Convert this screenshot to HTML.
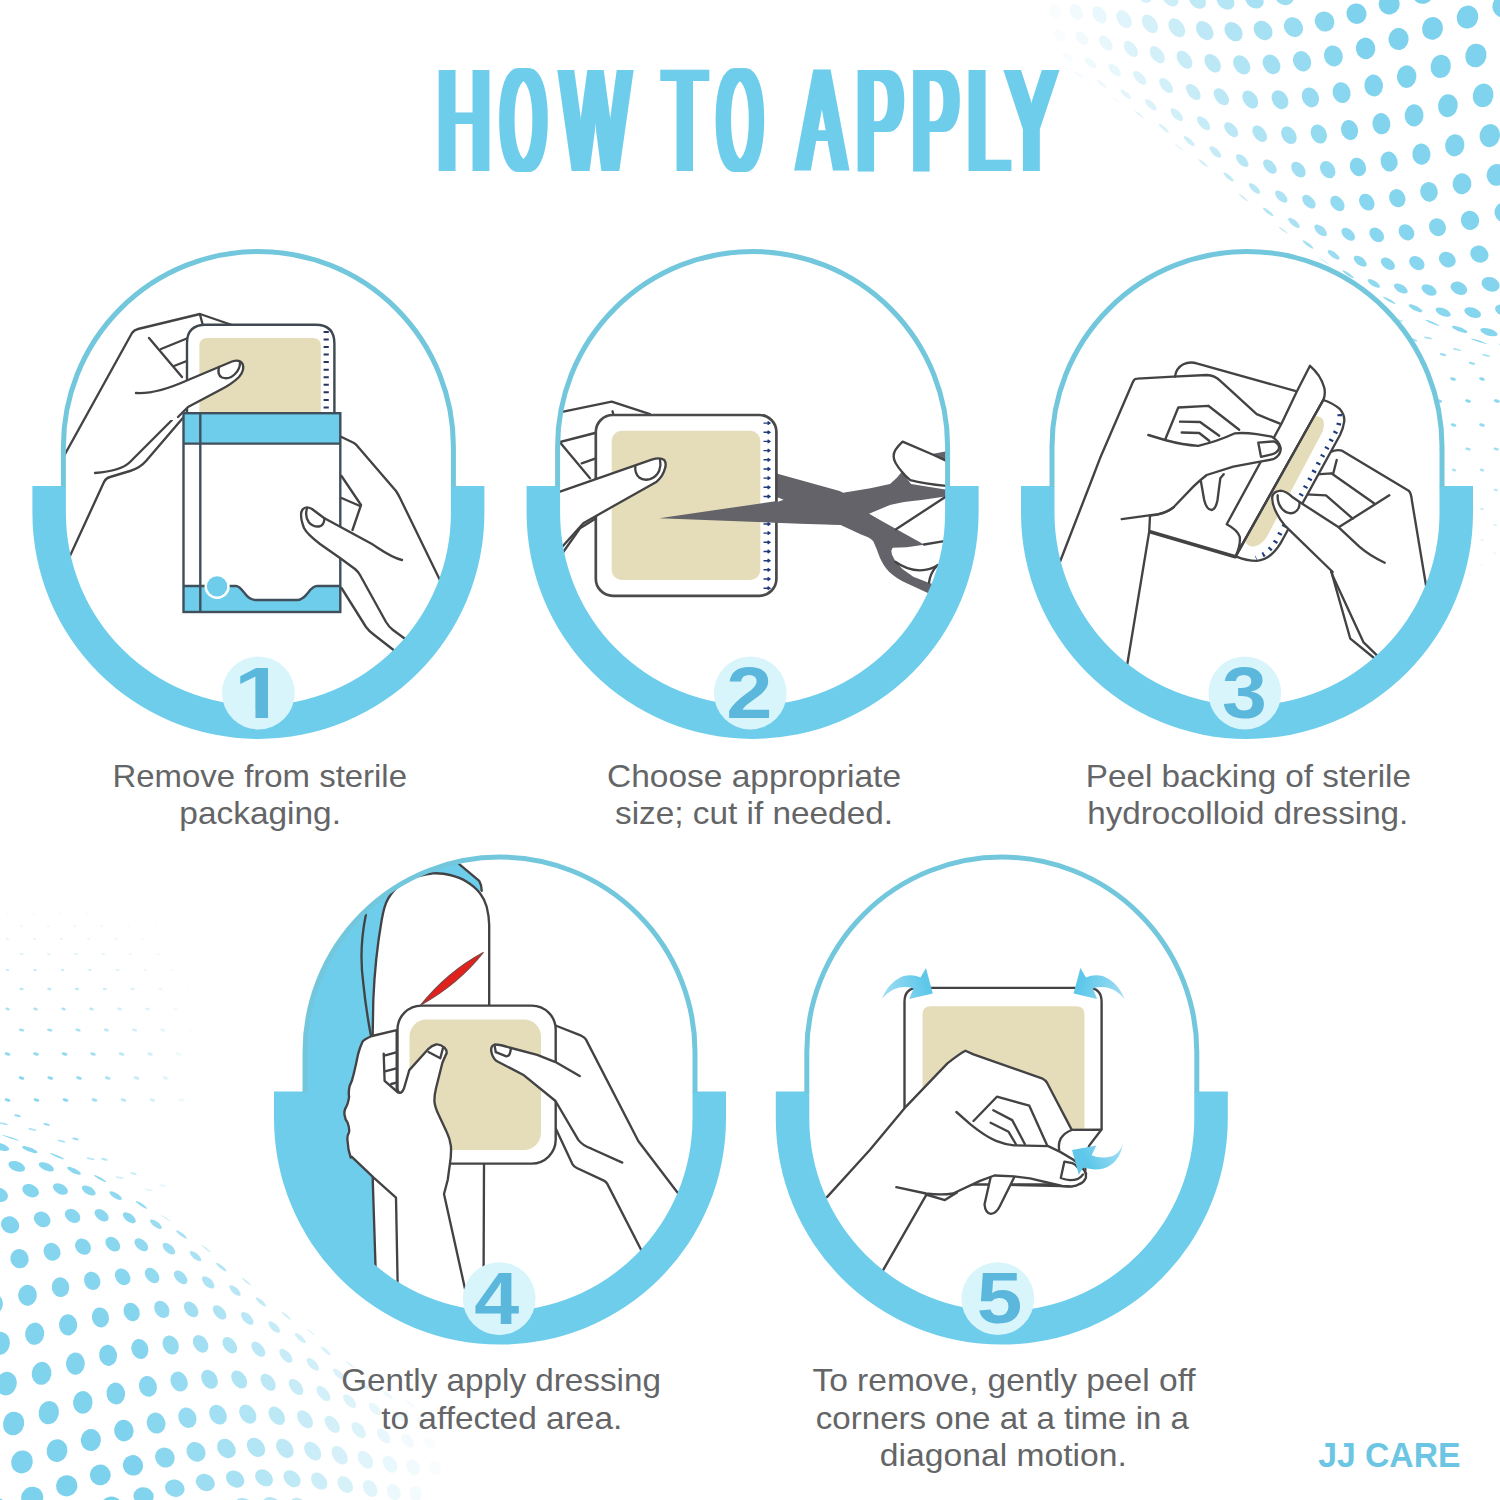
<!DOCTYPE html>
<html lang="en"><head><meta charset="utf-8"><title>How to apply</title>
<style>
html,body{margin:0;padding:0;background:#fff}
body{width:1500px;height:1500px;overflow:hidden}
svg{display:block}
.cap{font-family:"Liberation Sans",sans-serif;font-size:31.6px;fill:#646567}
.num{font-family:"Liberation Sans",sans-serif;font-weight:bold;font-size:100px;fill:#5bb8dc}
.ttl{font-family:"Liberation Sans",sans-serif;font-weight:normal;font-size:69px;fill:#6ecdeb}
.brand{font-family:"Liberation Sans",sans-serif;font-weight:bold;font-size:35.4px;fill:#6cc6e3}
.ln{fill:none;stroke:#434345;stroke-width:2.35;stroke-linecap:round;stroke-linejoin:round}
.sk{fill:#fff;stroke:#434345;stroke-width:2.35;stroke-linecap:round;stroke-linejoin:round}
</style></head><body>
<svg width="1500" height="1500" viewBox="0 0 1500 1500">
<rect width="1500" height="1500" fill="#fff"/>
<defs>
<clipPath id="c1"><path d="M64.99999999999997,513 V446.5 A193.4,193.4 0 0 1 451.79999999999995,446.5 V513 A193.4,193.4 0 0 1 64.99999999999997,513Z"/></clipPath>
<clipPath id="c2"><path d="M559.2,513 V446.5 A193.4,193.4 0 0 1 946.0,446.5 V513 A193.4,193.4 0 0 1 559.2,513Z"/></clipPath>
<clipPath id="c3"><path d="M1053.6,513 V446.5 A193.4,193.4 0 0 1 1440.4,446.5 V513 A193.4,193.4 0 0 1 1053.6,513Z"/></clipPath>
<clipPath id="c4"><path d="M306.6,1118.6 V1052.1 A193.4,193.4 0 0 1 693.4,1052.1 V1118.6 A193.4,193.4 0 0 1 306.6,1118.6Z"/></clipPath>
<clipPath id="c5"><path d="M808.4,1118.6 V1052.1 A193.4,193.4 0 0 1 1195.2,1052.1 V1118.6 A193.4,193.4 0 0 1 808.4,1118.6Z"/></clipPath>
<filter id="fat" x="400" y="40" width="700" height="160" filterUnits="userSpaceOnUse"><feMorphology operator="dilate" radius="5 0"/></filter>
<clipPath id="one"><path d="M230,660 H290 V710 H268.05 V722 H255.45 V710 H230Z"/></clipPath>
</defs>
<g id="dotsA" fill="#6ecdeb">
<circle r="1" transform="matrix(3.38 0.76 2.14 1.81 1057.8 68.7)" opacity="0.03"/>
<circle r="1" transform="matrix(6.21 -0.29 0.90 7.51 1054.7 11.1)" opacity="0.03"/>
<circle r="1" transform="matrix(5.57 0.33 1.69 6.02 1059.5 35.4)" opacity="0.04"/>
<circle r="1" transform="matrix(4.75 0.92 2.13 4.32 1067.7 57.2)" opacity="0.05"/>
<circle r="1" transform="matrix(3.83 1.37 2.25 2.66 1079.2 75.0)" opacity="0.07"/>
<circle r="1" transform="matrix(6.34 0.23 0.29 7.84 1073.8 -14.9)" opacity="0.08"/>
<circle r="1" transform="matrix(6.72 0.63 1.23 8.05 1076.3 11.8)" opacity="0.09"/>
<circle r="1" transform="matrix(6.05 1.05 1.86 6.74 1081.9 38.2)" opacity="0.09"/>
<circle r="1" transform="matrix(5.23 1.47 2.24 5.16 1090.5 62.8)" opacity="0.11"/>
<circle r="1" transform="matrix(4.31 1.81 2.35 3.52 1101.9 84.0)" opacity="0.12"/>
<circle r="1" transform="matrix(3.35 2.00 2.23 2.00 1116.0 100.5)" opacity="0.14"/>
<circle r="1" transform="matrix(6.84 0.86 0.73 8.10 1095.7 -13.0)" opacity="0.14"/>
<circle r="1" transform="matrix(7.17 1.17 1.51 8.49 1099.5 14.8)" opacity="0.15"/>
<circle r="1" transform="matrix(6.50 1.47 2.01 7.39 1105.8 43.1)" opacity="0.16"/>
<circle r="1" transform="matrix(5.69 1.79 2.32 5.96 1114.6 70.0)" opacity="0.17"/>
<circle r="1" transform="matrix(4.79 2.07 2.43 4.39 1125.8 94.3)" opacity="0.18"/>
<circle r="1" transform="matrix(3.85 2.26 2.36 2.85 1139.4 114.5)" opacity="0.20"/>
<circle r="1" transform="matrix(7.27 1.15 1.13 8.29 1119.3 -9.5)" opacity="0.21"/>
<circle r="1" transform="matrix(7.57 1.39 1.74 8.85 1124.1 19.2)" opacity="0.22"/>
<circle r="1" transform="matrix(6.92 1.61 2.12 7.96 1130.9 48.9)" opacity="0.23"/>
<circle r="1" transform="matrix(6.13 1.87 2.37 6.70 1139.8 77.9)" opacity="0.24"/>
<circle r="1" transform="matrix(5.26 2.14 2.48 5.23 1150.8 104.8)" opacity="0.25"/>
<circle r="1" transform="matrix(4.36 2.34 2.45 3.72 1163.8 128.2)" opacity="0.26"/>
<circle r="1" transform="matrix(3.46 2.45 2.28 2.29 1178.8 146.9)" opacity="0.27"/>
<circle r="1" transform="matrix(7.66 1.15 1.49 8.42 1144.2 -5.6)" opacity="0.28"/>
<circle r="1" transform="matrix(7.92 1.33 1.95 9.13 1149.9 23.8)" opacity="0.29"/>
<circle r="1" transform="matrix(7.29 1.51 2.21 8.46 1157.2 54.7)" opacity="0.30"/>
<circle r="1" transform="matrix(6.53 1.75 2.39 7.38 1166.1 85.5)" opacity="0.31"/>
<circle r="1" transform="matrix(5.70 2.01 2.49 6.03 1176.8 114.7)" opacity="0.32"/>
<circle r="1" transform="matrix(4.84 2.25 2.49 4.58 1189.2 141.0)" opacity="0.33"/>
<circle r="1" transform="matrix(3.98 2.43 2.39 3.14 1203.2 163.1)" opacity="0.34"/>
<circle r="1" transform="matrix(7.59 0.93 1.57 7.11 1164.6 -28.3)" opacity="0.34"/>
<circle r="1" transform="matrix(7.99 0.92 1.82 8.50 1170.3 -2.1)" opacity="0.35"/>
<circle r="1" transform="matrix(8.23 1.05 2.12 9.36 1176.8 27.8)" opacity="0.37"/>
<circle r="1" transform="matrix(7.63 1.20 2.27 8.89 1184.5 59.7)" opacity="0.38"/>
<circle r="1" transform="matrix(6.91 1.43 2.39 7.98 1193.4 92.0)" opacity="0.38"/>
<circle r="1" transform="matrix(6.12 1.70 2.46 6.77 1203.6 123.2)" opacity="0.39"/>
<circle r="1" transform="matrix(5.29 1.97 2.48 5.40 1215.3 151.9)" opacity="0.40"/>
<circle r="1" transform="matrix(4.47 2.22 2.43 3.99 1228.5 177.0)" opacity="0.41"/>
<circle r="1" transform="matrix(3.78 2.47 2.38 2.73 1243.2 197.5)" opacity="0.42"/>
<circle r="1" transform="matrix(7.92 0.54 2.04 7.02 1190.5 -25.8)" opacity="0.41"/>
<circle r="1" transform="matrix(8.29 0.50 2.12 8.54 1197.4 0.3)" opacity="0.43"/>
<circle r="1" transform="matrix(8.51 0.59 2.27 9.53 1204.7 30.6)" opacity="0.45"/>
<circle r="1" transform="matrix(7.94 0.74 2.31 9.25 1212.7 63.3)" opacity="0.46"/>
<circle r="1" transform="matrix(7.25 0.96 2.36 8.51 1221.4 96.8)" opacity="0.46"/>
<circle r="1" transform="matrix(6.51 1.24 2.41 7.45 1231.2 129.7)" opacity="0.47"/>
<circle r="1" transform="matrix(5.79 1.56 2.46 6.25 1242.2 160.6)" opacity="0.48"/>
<circle r="1" transform="matrix(5.10 1.90 2.51 4.98 1254.5 188.4)" opacity="0.49"/>
<circle r="1" transform="matrix(4.47 2.25 2.54 3.72 1268.2 211.9)" opacity="0.50"/>
<circle r="1" transform="matrix(3.92 2.61 2.56 2.51 1283.3 230.3)" opacity="0.52"/>
<circle r="1" transform="matrix(8.20 0.01 2.49 6.91 1217.4 -24.8)" opacity="0.49"/>
<circle r="1" transform="matrix(8.56 -0.05 2.40 8.55 1225.5 1.1)" opacity="0.51"/>
<circle r="1" transform="matrix(8.76 -0.00 2.41 9.65 1233.5 31.6)" opacity="0.54"/>
<circle r="1" transform="matrix(8.24 0.15 2.34 9.57 1241.7 64.9)" opacity="0.54"/>
<circle r="1" transform="matrix(7.63 0.38 2.34 9.04 1250.3 99.5)" opacity="0.55"/>
<circle r="1" transform="matrix(6.99 0.68 2.37 8.19 1259.7 133.8)" opacity="0.55"/>
<circle r="1" transform="matrix(6.33 1.02 2.44 7.13 1269.9 166.6)" opacity="0.56"/>
<circle r="1" transform="matrix(5.70 1.40 2.52 5.94 1281.3 196.6)" opacity="0.57"/>
<circle r="1" transform="matrix(5.12 1.81 2.61 4.71 1294.0 222.9)" opacity="0.59"/>
<circle r="1" transform="matrix(4.59 2.24 2.71 3.47 1308.0 244.5)" opacity="0.60"/>
<circle r="1" transform="matrix(4.15 2.71 2.81 2.28 1323.6 260.7)" opacity="0.63"/>
<circle r="1" transform="matrix(8.46 -0.62 2.92 6.79 1245.2 -25.8)" opacity="0.57"/>
<circle r="1" transform="matrix(8.81 -0.69 2.67 8.53 1254.4 -0.1)" opacity="0.60"/>
<circle r="1" transform="matrix(9.00 -0.67 2.54 9.74 1263.1 30.5)" opacity="0.62"/>
<circle r="1" transform="matrix(8.55 -0.51 2.37 9.86 1271.5 64.3)" opacity="0.63"/>
<circle r="1" transform="matrix(8.02 -0.28 2.30 9.53 1280.0 99.7)" opacity="0.63"/>
<circle r="1" transform="matrix(7.44 0.02 2.31 8.85 1288.9 135.2)" opacity="0.64"/>
<circle r="1" transform="matrix(6.85 0.37 2.37 7.92 1298.4 169.6)" opacity="0.65"/>
<circle r="1" transform="matrix(6.27 0.77 2.47 6.83 1308.9 201.7)" opacity="0.66"/>
<circle r="1" transform="matrix(5.73 1.20 2.61 5.65 1320.6 230.4)" opacity="0.67"/>
<circle r="1" transform="matrix(5.24 1.67 2.77 4.43 1333.6 254.8)" opacity="0.69"/>
<circle r="1" transform="matrix(4.83 2.18 2.96 3.21 1348.2 274.2)" opacity="0.72"/>
<circle r="1" transform="matrix(8.70 -1.29 3.34 6.67 1273.8 -29.0)" opacity="0.65"/>
<circle r="1" transform="matrix(9.04 -1.37 2.93 8.51 1284.2 -3.5)" opacity="0.68"/>
<circle r="1" transform="matrix(9.23 -1.36 2.66 9.80 1293.5 27.1)" opacity="0.71"/>
<circle r="1" transform="matrix(8.85 -1.20 2.40 10.11 1302.1 61.3)" opacity="0.72"/>
<circle r="1" transform="matrix(8.39 -0.97 2.26 9.95 1310.4 97.4)" opacity="0.72"/>
<circle r="1" transform="matrix(7.88 -0.68 2.23 9.43 1318.8 134.0)" opacity="0.73"/>
<circle r="1" transform="matrix(7.35 -0.34 2.28 8.63 1327.7 169.7)" opacity="0.74"/>
<circle r="1" transform="matrix(6.82 0.05 2.40 7.65 1337.4 203.5)" opacity="0.75"/>
<circle r="1" transform="matrix(6.33 0.49 2.57 6.54 1348.2 234.3)" opacity="0.76"/>
<circle r="1" transform="matrix(5.88 0.97 2.78 5.35 1360.2 261.2)" opacity="0.78"/>
<circle r="1" transform="matrix(5.50 1.49 3.04 4.13 1373.9 283.4)" opacity="0.77"/>
<circle r="1" transform="matrix(5.20 2.06 3.34 2.89 1389.3 300.4)" opacity="0.76"/>
<circle r="1" transform="matrix(9.26 -2.03 3.19 8.47 1314.7 -9.2)" opacity="0.77"/>
<circle r="1" transform="matrix(9.45 -2.03 2.79 9.85 1324.6 21.5)" opacity="0.80"/>
<circle r="1" transform="matrix(9.14 -1.87 2.43 10.31 1333.4 55.9)" opacity="0.81"/>
<circle r="1" transform="matrix(8.75 -1.65 2.22 10.31 1341.6 92.6)" opacity="0.82"/>
<circle r="1" transform="matrix(8.31 -1.38 2.15 9.94 1349.6 130.0)" opacity="0.83"/>
<circle r="1" transform="matrix(7.84 -1.05 2.18 9.27 1357.9 167.0)" opacity="0.83"/>
<circle r="1" transform="matrix(7.37 -0.67 2.30 8.39 1366.8 202.2)" opacity="0.82"/>
<circle r="1" transform="matrix(6.93 -0.25 2.50 7.36 1376.7 234.8)" opacity="0.81"/>
<circle r="1" transform="matrix(6.53 0.21 2.76 6.22 1387.9 263.8)" opacity="0.80"/>
<circle r="1" transform="matrix(6.19 0.72 3.08 5.02 1400.8 288.5)" opacity="0.79"/>
<circle r="1" transform="matrix(5.93 1.28 3.47 3.78 1415.5 308.3)" opacity="0.79"/>
<circle r="1" transform="matrix(5.77 1.91 3.92 2.53 1432.4 322.8)" opacity="0.79"/>
<circle r="1" transform="matrix(9.49 -2.63 3.45 8.44 1345.9 -17.0)" opacity="0.86"/>
<circle r="1" transform="matrix(9.69 -2.63 2.92 9.89 1356.5 13.7)" opacity="0.89"/>
<circle r="1" transform="matrix(9.44 -2.47 2.47 10.49 1365.6 48.4)" opacity="0.89"/>
<circle r="1" transform="matrix(9.12 -2.26 2.19 10.63 1373.7 85.5)" opacity="0.87"/>
<circle r="1" transform="matrix(8.75 -2.01 2.07 10.39 1381.4 123.7)" opacity="0.86"/>
<circle r="1" transform="matrix(8.34 -1.70 2.08 9.84 1389.1 161.6)" opacity="0.85"/>
<circle r="1" transform="matrix(7.93 -1.35 2.20 9.06 1397.3 198.2)" opacity="0.84"/>
<circle r="1" transform="matrix(7.54 -0.96 2.42 8.11 1406.5 232.3)" opacity="0.83"/>
<circle r="1" transform="matrix(7.20 -0.53 2.73 7.02 1416.9 263.1)" opacity="0.82"/>
<circle r="1" transform="matrix(6.91 -0.05 3.12 5.86 1429.1 290.0)" opacity="0.82"/>
<circle r="1" transform="matrix(6.70 0.48 3.59 4.64 1443.2 312.2)" opacity="0.81"/>
<circle r="1" transform="matrix(6.60 1.07 4.14 3.39 1459.7 329.4)" opacity="0.82"/>
<circle r="1" transform="matrix(6.62 1.74 4.80 2.12 1478.8 341.2)" opacity="0.82"/>
<circle r="1" transform="matrix(9.72 -3.12 3.72 8.43 1378.0 -26.6)" opacity="0.90"/>
<circle r="1" transform="matrix(9.94 -3.10 3.06 9.93 1389.2 4.1)" opacity="0.90"/>
<circle r="1" transform="matrix(9.76 -2.95 2.52 10.65 1398.6 39.0)" opacity="0.89"/>
<circle r="1" transform="matrix(9.51 -2.75 2.17 10.91 1406.7 76.6)" opacity="0.88"/>
<circle r="1" transform="matrix(9.20 -2.52 2.00 10.79 1414.1 115.4)" opacity="0.87"/>
<circle r="1" transform="matrix(8.87 -2.24 1.99 10.35 1421.4 154.2)" opacity="0.86"/>
<circle r="1" transform="matrix(8.52 -1.93 2.11 9.67 1429.0 191.8)" opacity="0.85"/>
<circle r="1" transform="matrix(8.20 -1.57 2.35 8.79 1437.5 227.2)" opacity="0.84"/>
<circle r="1" transform="matrix(7.91 -1.18 2.70 7.76 1447.3 259.6)" opacity="0.84"/>
<circle r="1" transform="matrix(7.68 -0.74 3.15 6.64 1458.9 288.3)" opacity="0.84"/>
<circle r="1" transform="matrix(7.53 -0.26 3.71 5.45 1472.7 312.6)" opacity="0.84"/>
<circle r="1" transform="matrix(7.41 0.27 4.32 4.16 1489.0 332.2)" opacity="0.83"/>
<circle r="1" transform="matrix(7.28 0.84 4.95 2.82 1508.2 346.6)" opacity="0.83"/>
<circle r="1" transform="matrix(7.24 1.45 5.61 1.52 1530.6 355.8)" opacity="0.82"/>
<circle r="1" transform="matrix(10.21 -3.41 3.23 9.98 1422.8 -6.8)" opacity="0.90"/>
<circle r="1" transform="matrix(10.10 -3.25 2.59 10.80 1432.5 28.4)" opacity="0.89"/>
<circle r="1" transform="matrix(9.92 -3.07 2.18 11.17 1440.7 66.4)" opacity="0.88"/>
<circle r="1" transform="matrix(9.69 -2.85 1.96 11.15 1447.9 105.7)" opacity="0.88"/>
<circle r="1" transform="matrix(9.43 -2.61 1.92 10.81 1454.8 145.3)" opacity="0.87"/>
<circle r="1" transform="matrix(9.15 -2.33 2.03 10.21 1462.0 183.8)" opacity="0.86"/>
<circle r="1" transform="matrix(8.89 -2.01 2.29 9.41 1470.0 220.3)" opacity="0.86"/>
<circle r="1" transform="matrix(8.67 -1.67 2.69 8.44 1479.4 254.1)" opacity="0.86"/>
<circle r="1" transform="matrix(8.43 -1.27 3.18 7.28 1490.6 284.3)" opacity="0.85"/>
<circle r="1" transform="matrix(8.22 -0.84 3.76 6.03 1504.2 310.4)" opacity="0.84"/>
<circle r="1" transform="matrix(8.08 -0.37 4.41 4.74 1520.5 331.9)" opacity="0.84"/>
<circle r="1" transform="matrix(10.51 -3.49 3.42 10.05 1457.3 -18.4)" opacity="0.90"/>
<circle r="1" transform="matrix(10.48 -3.33 2.70 10.95 1467.5 17.1)" opacity="0.89"/>
<circle r="1" transform="matrix(10.38 -3.15 2.21 11.41 1475.9 55.5)" opacity="0.89"/>
<circle r="1" transform="matrix(10.21 -2.95 1.94 11.47 1483.1 95.4)" opacity="0.88"/>
<circle r="1" transform="matrix(9.99 -2.72 1.87 11.18 1489.8 135.6)" opacity="0.88"/>
<circle r="1" transform="matrix(9.75 -2.47 1.97 10.61 1496.6 174.9)" opacity="0.87"/>
<circle r="1" transform="matrix(9.50 -2.18 2.23 9.81 1504.3 212.4)" opacity="0.86"/>
<circle r="1" transform="matrix(9.27 -1.87 2.64 8.82 1513.3 247.3)" opacity="0.86"/>
<circle r="1" transform="matrix(9.07 -1.53 3.17 7.70 1524.4 278.8)" opacity="0.85"/>
<circle r="1" transform="matrix(10.86 -3.30 3.64 10.16 1492.9 -29.7)" opacity="0.90"/>
<circle r="1" transform="matrix(10.87 -3.12 2.83 11.09 1503.7 6.1)" opacity="0.89"/>
<circle r="1" transform="matrix(10.80 -2.93 2.27 11.57 1512.4 44.9)" opacity="0.89"/>
<circle r="1" transform="matrix(10.67 -2.73 1.95 11.66 1519.6 85.4)" opacity="0.88"/>
<circle r="1" transform="matrix(10.50 -2.52 1.84 11.40 1526.2 126.2)" opacity="0.88"/>
<circle r="1" transform="matrix(10.30 -2.29 1.93 10.87 1533.0 166.2)" opacity="0.87"/>
<ellipse cx="1511.0" cy="379.0" rx="3.0" ry="1.6" opacity="0.80" transform="rotate(14 1511.0 379.0)"/>
<ellipse cx="1482.0" cy="379.0" rx="3.0" ry="1.6" opacity="0.80" transform="rotate(14 1482.0 379.0)"/>
<ellipse cx="1453.0" cy="379.0" rx="3.0" ry="1.6" opacity="0.80" transform="rotate(14 1453.0 379.0)"/>
<ellipse cx="1424.0" cy="379.0" rx="3.0" ry="1.6" opacity="0.80" transform="rotate(14 1424.0 379.0)"/>
<ellipse cx="1395.0" cy="379.0" rx="3.0" ry="1.6" opacity="0.65" transform="rotate(14 1395.0 379.0)"/>
<ellipse cx="1366.0" cy="379.0" rx="3.0" ry="1.6" opacity="0.47" transform="rotate(14 1366.0 379.0)"/>
<ellipse cx="1337.0" cy="379.0" rx="3.0" ry="1.6" opacity="0.29" transform="rotate(14 1337.0 379.0)"/>
<ellipse cx="1308.0" cy="379.0" rx="3.0" ry="1.6" opacity="0.11" transform="rotate(14 1308.0 379.0)"/>
<ellipse cx="1496.8" cy="401.0" rx="3.0" ry="1.6" opacity="0.80" transform="rotate(14 1496.8 401.0)"/>
<ellipse cx="1468.0" cy="401.0" rx="3.0" ry="1.6" opacity="0.80" transform="rotate(14 1468.0 401.0)"/>
<ellipse cx="1439.2" cy="401.0" rx="3.0" ry="1.6" opacity="0.80" transform="rotate(14 1439.2 401.0)"/>
<ellipse cx="1410.5" cy="401.0" rx="3.0" ry="1.6" opacity="0.74" transform="rotate(14 1410.5 401.0)"/>
<ellipse cx="1381.8" cy="401.0" rx="3.0" ry="1.6" opacity="0.56" transform="rotate(14 1381.8 401.0)"/>
<ellipse cx="1353.0" cy="401.0" rx="3.0" ry="1.6" opacity="0.39" transform="rotate(14 1353.0 401.0)"/>
<ellipse cx="1324.2" cy="401.0" rx="3.0" ry="1.6" opacity="0.21" transform="rotate(14 1324.2 401.0)"/>
<ellipse cx="1510.5" cy="425.0" rx="3.0" ry="1.6" opacity="0.75" transform="rotate(14 1510.5 425.0)"/>
<ellipse cx="1482.0" cy="425.0" rx="3.0" ry="1.6" opacity="0.75" transform="rotate(14 1482.0 425.0)"/>
<ellipse cx="1453.5" cy="425.0" rx="3.0" ry="1.6" opacity="0.75" transform="rotate(14 1453.5 425.0)"/>
<ellipse cx="1425.0" cy="425.0" rx="3.0" ry="1.6" opacity="0.75" transform="rotate(14 1425.0 425.0)"/>
<ellipse cx="1396.5" cy="425.0" rx="3.0" ry="1.6" opacity="0.61" transform="rotate(14 1396.5 425.0)"/>
<ellipse cx="1368.0" cy="425.0" rx="3.0" ry="1.6" opacity="0.45" transform="rotate(14 1368.0 425.0)"/>
<ellipse cx="1339.5" cy="425.0" rx="3.0" ry="1.6" opacity="0.29" transform="rotate(14 1339.5 425.0)"/>
<ellipse cx="1311.0" cy="425.0" rx="3.0" ry="1.6" opacity="0.12" transform="rotate(14 1311.0 425.0)"/>
<ellipse cx="1496.2" cy="449.0" rx="2.7" ry="1.4" opacity="0.66" transform="rotate(14 1496.2 449.0)"/>
<ellipse cx="1468.0" cy="449.0" rx="2.7" ry="1.4" opacity="0.66" transform="rotate(14 1468.0 449.0)"/>
<ellipse cx="1439.8" cy="449.0" rx="2.7" ry="1.4" opacity="0.66" transform="rotate(14 1439.8 449.0)"/>
<ellipse cx="1411.5" cy="449.0" rx="2.7" ry="1.4" opacity="0.62" transform="rotate(14 1411.5 449.0)"/>
<ellipse cx="1383.2" cy="449.0" rx="2.7" ry="1.4" opacity="0.47" transform="rotate(14 1383.2 449.0)"/>
<ellipse cx="1355.0" cy="449.0" rx="2.7" ry="1.4" opacity="0.33" transform="rotate(14 1355.0 449.0)"/>
<ellipse cx="1326.8" cy="449.0" rx="2.7" ry="1.4" opacity="0.19" transform="rotate(14 1326.8 449.0)"/>
<ellipse cx="1298.5" cy="449.0" rx="2.7" ry="1.4" opacity="0.04" transform="rotate(14 1298.5 449.0)"/>
<ellipse cx="1510.0" cy="470.0" rx="2.4" ry="1.3" opacity="0.57" transform="rotate(14 1510.0 470.0)"/>
<ellipse cx="1482.0" cy="470.0" rx="2.4" ry="1.3" opacity="0.57" transform="rotate(14 1482.0 470.0)"/>
<ellipse cx="1454.0" cy="470.0" rx="2.4" ry="1.3" opacity="0.57" transform="rotate(14 1454.0 470.0)"/>
<ellipse cx="1426.0" cy="470.0" rx="2.4" ry="1.3" opacity="0.57" transform="rotate(14 1426.0 470.0)"/>
<ellipse cx="1398.0" cy="470.0" rx="2.4" ry="1.3" opacity="0.47" transform="rotate(14 1398.0 470.0)"/>
<ellipse cx="1370.0" cy="470.0" rx="2.4" ry="1.3" opacity="0.35" transform="rotate(14 1370.0 470.0)"/>
<ellipse cx="1342.0" cy="470.0" rx="2.4" ry="1.3" opacity="0.23" transform="rotate(14 1342.0 470.0)"/>
<ellipse cx="1314.0" cy="470.0" rx="2.4" ry="1.3" opacity="0.11" transform="rotate(14 1314.0 470.0)"/>
<ellipse cx="1495.8" cy="490.0" rx="2.2" ry="1.2" opacity="0.48" transform="rotate(14 1495.8 490.0)"/>
<ellipse cx="1468.0" cy="490.0" rx="2.2" ry="1.2" opacity="0.48" transform="rotate(14 1468.0 490.0)"/>
<ellipse cx="1440.2" cy="490.0" rx="2.2" ry="1.2" opacity="0.48" transform="rotate(14 1440.2 490.0)"/>
<ellipse cx="1412.5" cy="490.0" rx="2.2" ry="1.2" opacity="0.45" transform="rotate(14 1412.5 490.0)"/>
<ellipse cx="1384.8" cy="490.0" rx="2.2" ry="1.2" opacity="0.35" transform="rotate(14 1384.8 490.0)"/>
<ellipse cx="1357.0" cy="490.0" rx="2.2" ry="1.2" opacity="0.25" transform="rotate(14 1357.0 490.0)"/>
<ellipse cx="1329.2" cy="490.0" rx="2.2" ry="1.2" opacity="0.14" transform="rotate(14 1329.2 490.0)"/>
<ellipse cx="1301.5" cy="490.0" rx="2.2" ry="1.2" opacity="0.04" transform="rotate(14 1301.5 490.0)"/>
<ellipse cx="1509.5" cy="509.0" rx="1.9" ry="1.0" opacity="0.39" transform="rotate(14 1509.5 509.0)"/>
<ellipse cx="1482.0" cy="509.0" rx="1.9" ry="1.0" opacity="0.39" transform="rotate(14 1482.0 509.0)"/>
<ellipse cx="1454.5" cy="509.0" rx="1.9" ry="1.0" opacity="0.39" transform="rotate(14 1454.5 509.0)"/>
<ellipse cx="1427.0" cy="509.0" rx="1.9" ry="1.0" opacity="0.39" transform="rotate(14 1427.0 509.0)"/>
<ellipse cx="1399.5" cy="509.0" rx="1.9" ry="1.0" opacity="0.33" transform="rotate(14 1399.5 509.0)"/>
<ellipse cx="1372.0" cy="509.0" rx="1.9" ry="1.0" opacity="0.25" transform="rotate(14 1372.0 509.0)"/>
<ellipse cx="1344.5" cy="509.0" rx="1.9" ry="1.0" opacity="0.16" transform="rotate(14 1344.5 509.0)"/>
<ellipse cx="1317.0" cy="509.0" rx="1.9" ry="1.0" opacity="0.08" transform="rotate(14 1317.0 509.0)"/>
<ellipse cx="1495.2" cy="525.0" rx="1.8" ry="0.9" opacity="0.31" transform="rotate(14 1495.2 525.0)"/>
<ellipse cx="1468.0" cy="525.0" rx="1.8" ry="0.9" opacity="0.31" transform="rotate(14 1468.0 525.0)"/>
<ellipse cx="1440.8" cy="525.0" rx="1.8" ry="0.9" opacity="0.31" transform="rotate(14 1440.8 525.0)"/>
<ellipse cx="1413.5" cy="525.0" rx="1.8" ry="0.9" opacity="0.29" transform="rotate(14 1413.5 525.0)"/>
<ellipse cx="1386.2" cy="525.0" rx="1.8" ry="0.9" opacity="0.23" transform="rotate(14 1386.2 525.0)"/>
<ellipse cx="1359.0" cy="525.0" rx="1.8" ry="0.9" opacity="0.16" transform="rotate(14 1359.0 525.0)"/>
<ellipse cx="1331.8" cy="525.0" rx="1.8" ry="0.9" opacity="0.10" transform="rotate(14 1331.8 525.0)"/>
<ellipse cx="1509.0" cy="540.0" rx="1.6" ry="0.9" opacity="0.23" transform="rotate(14 1509.0 540.0)"/>
<ellipse cx="1482.0" cy="540.0" rx="1.6" ry="0.9" opacity="0.23" transform="rotate(14 1482.0 540.0)"/>
<ellipse cx="1455.0" cy="540.0" rx="1.6" ry="0.9" opacity="0.23" transform="rotate(14 1455.0 540.0)"/>
<ellipse cx="1428.0" cy="540.0" rx="1.6" ry="0.9" opacity="0.23" transform="rotate(14 1428.0 540.0)"/>
<ellipse cx="1401.0" cy="540.0" rx="1.6" ry="0.9" opacity="0.20" transform="rotate(14 1401.0 540.0)"/>
<ellipse cx="1374.0" cy="540.0" rx="1.6" ry="0.9" opacity="0.15" transform="rotate(14 1374.0 540.0)"/>
<ellipse cx="1347.0" cy="540.0" rx="1.6" ry="0.9" opacity="0.10" transform="rotate(14 1347.0 540.0)"/>
<ellipse cx="1320.0" cy="540.0" rx="1.6" ry="0.9" opacity="0.05" transform="rotate(14 1320.0 540.0)"/>
<ellipse cx="1494.8" cy="553.0" rx="1.5" ry="0.8" opacity="0.17" transform="rotate(14 1494.8 553.0)"/>
<ellipse cx="1468.0" cy="553.0" rx="1.5" ry="0.8" opacity="0.17" transform="rotate(14 1468.0 553.0)"/>
<ellipse cx="1441.2" cy="553.0" rx="1.5" ry="0.8" opacity="0.17" transform="rotate(14 1441.2 553.0)"/>
<ellipse cx="1414.5" cy="553.0" rx="1.5" ry="0.8" opacity="0.16" transform="rotate(14 1414.5 553.0)"/>
<ellipse cx="1387.8" cy="553.0" rx="1.5" ry="0.8" opacity="0.13" transform="rotate(14 1387.8 553.0)"/>
<ellipse cx="1361.0" cy="553.0" rx="1.5" ry="0.8" opacity="0.09" transform="rotate(14 1361.0 553.0)"/>
<ellipse cx="1334.2" cy="553.0" rx="1.5" ry="0.8" opacity="0.06" transform="rotate(14 1334.2 553.0)"/>
<ellipse cx="1508.5" cy="565.0" rx="1.4" ry="0.7" opacity="0.12" transform="rotate(14 1508.5 565.0)"/>
<ellipse cx="1482.0" cy="565.0" rx="1.4" ry="0.7" opacity="0.12" transform="rotate(14 1482.0 565.0)"/>
<ellipse cx="1455.5" cy="565.0" rx="1.4" ry="0.7" opacity="0.12" transform="rotate(14 1455.5 565.0)"/>
<ellipse cx="1429.0" cy="565.0" rx="1.4" ry="0.7" opacity="0.12" transform="rotate(14 1429.0 565.0)"/>
<ellipse cx="1402.5" cy="565.0" rx="1.4" ry="0.7" opacity="0.10" transform="rotate(14 1402.5 565.0)"/>
<ellipse cx="1376.0" cy="565.0" rx="1.4" ry="0.7" opacity="0.08" transform="rotate(14 1376.0 565.0)"/>
<ellipse cx="1349.5" cy="565.0" rx="1.4" ry="0.7" opacity="0.05" transform="rotate(14 1349.5 565.0)"/>
<ellipse cx="1494.2" cy="576.0" rx="1.2" ry="0.6" opacity="0.08" transform="rotate(14 1494.2 576.0)"/>
<ellipse cx="1468.0" cy="576.0" rx="1.2" ry="0.6" opacity="0.08" transform="rotate(14 1468.0 576.0)"/>
<ellipse cx="1441.8" cy="576.0" rx="1.2" ry="0.6" opacity="0.08" transform="rotate(14 1441.8 576.0)"/>
<ellipse cx="1415.5" cy="576.0" rx="1.2" ry="0.6" opacity="0.08" transform="rotate(14 1415.5 576.0)"/>
<ellipse cx="1389.2" cy="576.0" rx="1.2" ry="0.6" opacity="0.06" transform="rotate(14 1389.2 576.0)"/>
<ellipse cx="1363.0" cy="576.0" rx="1.2" ry="0.6" opacity="0.04" transform="rotate(14 1363.0 576.0)"/>
<ellipse cx="1472.0" cy="363.3" rx="3.4" ry="1.2" opacity="0.70" transform="rotate(14 1472.0 363.3)"/>
<ellipse cx="1443.0" cy="354.6" rx="3.4" ry="1.2" opacity="0.70" transform="rotate(14 1443.0 354.6)"/>
<ellipse cx="1414.0" cy="340.1" rx="3.4" ry="1.2" opacity="0.66" transform="rotate(14 1414.0 340.1)"/>
<ellipse cx="1385.0" cy="319.7" rx="3.4" ry="1.2" opacity="0.50" transform="rotate(14 1385.0 319.7)"/>
<ellipse cx="1356.0" cy="305.5" rx="3.4" ry="1.2" opacity="0.33" transform="rotate(14 1356.0 305.5)"/>
<ellipse cx="1327.0" cy="293.3" rx="3.4" ry="1.2" opacity="0.16" transform="rotate(14 1327.0 293.3)"/>
<ellipse cx="1486.0" cy="355.3" rx="4.2" ry="0.9" opacity="0.60" transform="rotate(14 1486.0 355.3)"/>
<ellipse cx="1457.0" cy="349.5" rx="4.2" ry="0.9" opacity="0.60" transform="rotate(14 1457.0 349.5)"/>
<ellipse cx="1428.0" cy="337.9" rx="4.2" ry="0.9" opacity="0.60" transform="rotate(14 1428.0 337.9)"/>
<ellipse cx="1399.0" cy="320.3" rx="4.2" ry="0.9" opacity="0.49" transform="rotate(14 1399.0 320.3)"/>
<ellipse cx="1370.0" cy="301.4" rx="4.2" ry="0.9" opacity="0.35" transform="rotate(14 1370.0 301.4)"/>
<ellipse cx="1341.0" cy="289.2" rx="4.2" ry="0.9" opacity="0.20" transform="rotate(14 1341.0 289.2)"/>
</g>
<use href="#dotsA" transform="translate(1489.5 1479) rotate(180)"/>
<g filter="url(#fat)"><text class="ttl" transform="scale(1 2.1213)"><tspan x="437.73" y="80.85" textLength="52.55" lengthAdjust="spacingAndGlyphs">H</tspan><tspan x="501.58" y="80.85" textLength="44.02" lengthAdjust="spacingAndGlyphs">O</tspan><tspan x="561.92" y="80.85" textLength="66.86" lengthAdjust="spacingAndGlyphs">W</tspan> <tspan x="663.78" y="80.85" textLength="42.09" lengthAdjust="spacingAndGlyphs">T</tspan><tspan x="718.09" y="80.85" textLength="43.91" lengthAdjust="spacingAndGlyphs">O</tspan> <tspan x="799.06" y="80.85" textLength="45.64" lengthAdjust="spacingAndGlyphs">A</tspan><tspan x="857.06" y="80.85" textLength="45.89" lengthAdjust="spacingAndGlyphs">P</tspan><tspan x="912.54" y="80.85" textLength="46.01" lengthAdjust="spacingAndGlyphs">P</tspan><tspan x="967.41" y="80.85" textLength="41.33" lengthAdjust="spacingAndGlyphs">L</tspan><tspan x="1006.87" y="80.85" textLength="49.33" lengthAdjust="spacingAndGlyphs">Y</tspan></text></g>
<path d="M65.89999999999998,513 V446.5 A192.5,192.5 0 0 1 450.9,446.5 V513 A192.5,192.5 0 0 1 65.89999999999998,513Z" fill="#fff"/>
<g clip-path="url(#c1)">
<!-- panel 1: remove from sterile packaging -->
<g class="ln">
<path d="M54,474 L132,333 Q134,330 138,329 L200,314 L232,325"/>
<path d="M200,314.5 L202.5,324"/>
<path d="M149,338 L182,377"/>
<path d="M161,349 L188,338"/>
<path d="M174,366 L188,360.5"/>
<path d="M172,420 L130,462 Q121,471 95,473"/>
<path d="M188,412 L146,461 Q140,468 130,471 L110,477 Q106,478 104,482 L58,582"/>
</g>
<!-- dressing -->
<path d="M187,430 V343 Q187,324.8 206,324.8 H315.5 Q334.4,324.8 334.4,343.6 V430Z" fill="#fff" stroke="#3f4750" stroke-width="2.4"/>
<path d="M199.4,430 V346 Q199.4,338 207.4,338 H312.8 Q320.8,338 320.8,346 V430Z" fill="#e5ddb9"/>
<path d="M323.6,332 H328.8 M323.6,339.5 H328.8 M323.6,347 H328.8 M323.6,354.6 H328.8 M323.6,362.1 H328.8 M323.6,369.7 H328.8 M323.6,377.2 H328.8 M323.6,384.8 H328.8 M323.6,392.3 H328.8 M323.6,399.9 H328.8 M323.6,407.4 H328.8" stroke="#27365f" stroke-width="2" fill="none"/>
<!-- left thumb -->
<path fill="#fff" d="M136,393 C150,394 168,389 188,380 L232,361.5 Q240,359 242.6,364 Q245,370 239,377 Q232,384 220,390 L188,407 L176,420 L140,420 Z"/>
<path class="ln" d="M136,393 C150,394 168,389 188,380 L232,361.5 Q240,359 242.6,364 Q245,370 239,377 Q232,384 220,390 L188,407 L178,417"/>
<path class="ln" d="M219,367 Q217,375 222,377.5 Q229,380 235,374 Q240,369 240,363"/>
<!-- pouch -->
<rect x="183.5" y="413.2" width="156.8" height="198.8" fill="#fff"/>
<rect x="183.5" y="413.2" width="156.8" height="30.4" fill="#6ecdeb"/>
<path d="M183.5,586 H236 C243,586 245,600 255,600 H297 C307,600 309,586 317,586 H340.3 V612 H183.5Z" fill="#6ecdeb"/>
<g fill="none" stroke="#3f4f5c" stroke-width="2.4" stroke-linejoin="miter">
<rect x="183.5" y="413.2" width="156.8" height="198.8"/>
<path d="M183.5,443.6 H340.3 M200.3,413.2 V612"/>
<path d="M183.5,586 H236 C243,586 245,600 255,600 H297 C307,600 309,586 317,586 H340.3"/>
</g>
<circle cx="217.1" cy="586.4" r="12.6" fill="#fff"/>
<circle cx="217.1" cy="586.4" r="10.2" fill="#6ecdeb"/>
<!-- right hand -->
<g class="ln">
<path d="M341.5,437 L354,443 Q357,445 359,448 L396,491 Q398,494 400,498 L454,609"/>
<path d="M341.5,476 L361,505 L352.5,530"/>
<path d="M341.5,498 L360,506"/>
<path d="M341.5,588 L366,627 Q369,631 373,634 L400,655"/>
</g>
<path d="M402,560 C390,557 380,549 372,544 L324,518 L312,509 Q306,505.5 302.5,509.5 Q299,515 304,528 Q307,534 320,544 L340,558 L356,570 Q358,572 360,576 L388,626 L410,642 Z" fill="#fff"/>
<path class="ln" d="M402,560 C390,557 380,549 372,544 L324,518 L312,509 Q306,505.5 302.5,509.5 Q299,515 304,528 Q307,534 320,544 L340,558 L355,569 Q358,571.5 360,575 L386,622 Q389,627 393,630 L408,641"/>
<path class="ln" d="M307,508.5 Q304.5,516 309,522.5 Q313,527 319,526.5 Q324,526 324.5,518.5"/>

</g>
<path d="M32.39999999999998,486 H65.89999999999998 V513 A192.5,192.5 0 0 0 450.9,513 V486 H484.4 V513 A226,226 0 0 1 32.39999999999998,513Z" fill="#6ecdeb"/>
<path d="M63.39999999999998,487 V446.5 A195,195 0 0 1 453.4,446.5 V487" fill="none" stroke="#72c7dc" stroke-width="5"/>
<circle cx="258.4" cy="693.0" r="36.4" fill="#d9f5fc"/><g clip-path="url(#one)"><text x="0" y="0" class="num" transform="translate(234.06 718.40) scale(0.9172 0.7238)">1</text></g>
<text x="112.5" y="786.5" textLength="294.5" lengthAdjust="spacingAndGlyphs" class="cap">Remove from sterile</text>
<text x="179.3" y="823.5" textLength="161.7" lengthAdjust="spacingAndGlyphs" class="cap">packaging.</text>
<path d="M560.1,513 V446.5 A192.5,192.5 0 0 1 945.1,446.5 V513 A192.5,192.5 0 0 1 560.1,513Z" fill="#fff"/>
<g clip-path="url(#c2)">
<!-- panel 2: cut to size -->
<g class="ln">
<path d="M543.3 415.8L563.3 411.7L611.7 401.7L650.0 414.2"/>
<path d="M612.5 411.3L613.5 415.0"/>
<path d="M556.7 442.8L595.0 433.0"/>
<path d="M560.3 442.7L590.0 478.3"/>
<path d="M581.7 463.3L595.8 458.3"/>
</g>
<!-- scissors body -->
<path fill="#636369" d="M776.6 473.5L839.6 491.0L843.1 492.7L870.4 488.2L890.0 484.0Q897.0 478.4 901.9 471.7L918.0 458.8L932.0 453.9L945.3 451.5L948.8 451.5L948.8 498.0L945.3 496.6L921.4 500.0Q902.6 501.5 890.0 505.0L869.0 513.7L895.6 530.2L923.6 544.9L904.0 545.6L839.6 524.6L806.0 523.2L776.6 522.1Z"/>
<path fill="#636369" d="M839.6 524.6L860.0 534.0L868.0 537.3Q872.0 539.3 873.3 541.3Q876.7 548.7 880.0 558.0Q884.0 566.7 889.3 572.0Q897.3 579.3 906.7 583.3L927.3 592.7L933.3 594.7L946.7 594.7L946.7 540.0L924.0 544.5L868.7 513.7L839.6 516.7Z"/>
<!-- dressing -->
<rect x="595.8" y="415" width="180.6" height="180.8" rx="17" ry="17" fill="#fff" stroke="#4a4a4d" stroke-width="2.7"/>
<rect x="611.7" y="430.8" width="148.6" height="149.2" rx="10" ry="10" fill="#e5ddb9"/>
<path d="M763.5,423.1H769.6 M767.6,421.5L769.9,423.1L767.6,424.7 M763.5,432.3H769.6 M767.6,430.7L769.9,432.3L767.6,433.9 M763.5,441.4H769.6 M767.6,439.8L769.9,441.4L767.6,443.0 M763.5,450.6H769.6 M767.6,449.0L769.9,450.6L767.6,452.2 M763.5,459.8H769.6 M767.6,458.2L769.9,459.8L767.6,461.4 M763.5,469.0H769.6 M767.6,467.4L769.9,469.0L767.6,470.6 M763.5,478.1H769.6 M767.6,476.5L769.9,478.1L767.6,479.7 M763.5,487.3H769.6 M767.6,485.7L769.9,487.3L767.6,488.9 M763.5,496.5H769.6 M767.6,494.9L769.9,496.5L767.6,498.1 M763.5,505.6H769.6 M767.6,504.0L769.9,505.6L767.6,507.2 M763.5,514.8H769.6 M767.6,513.2L769.9,514.8L767.6,516.4 M763.5,524.0H769.6 M767.6,522.4L769.9,524.0L767.6,525.6 M763.5,533.1H769.6 M767.6,531.5L769.9,533.1L767.6,534.7 M763.5,542.3H769.6 M767.6,540.7L769.9,542.3L767.6,543.9 M763.5,551.5H769.6 M767.6,549.9L769.9,551.5L767.6,553.1 M763.5,560.7H769.6 M767.6,559.1L769.9,560.7L767.6,562.3 M763.5,569.8H769.6 M767.6,568.2L769.9,569.8L767.6,571.4 M763.5,579.0H769.6 M767.6,577.4L769.9,579.0L767.6,580.6 M763.5,588.2H769.6 M767.6,586.6L769.9,588.2L767.6,589.8 " fill="none" stroke="#1f3b7c" stroke-width="1.4"/>
<!-- lower blade -->
<path fill="#636369" d="M659.2,518.2 L783.6,500.1 L842,498 L842,525 L800,523.7 Z"/>
<path fill="#fff" d="M777.9,497.6 L783.6,499.8 L777.9,501.8Z"/>
<!-- left thumb -->
<path fill="#fff" d="M553.3 494.0L560.0 491.7L651.7 459.7Q660.0 457.0 664.2 460.0Q666.7 463.3 665.0 468.3Q663.3 475.8 656.7 481.7L616.7 504.2L583.3 523.3L560.0 549.2Z"/>
<path class="ln" d="M553.3 494.0L560.0 491.7L651.7 459.7Q660.0 457.0 664.2 460.0Q666.7 463.3 665.0 468.3Q663.3 475.8 656.7 481.7L616.7 504.2L583.3 523.3L560.0 549.2"/>
<path class="ln" d="M635.3 466.3Q634.7 473.3 639.2 477.5Q643.3 480.8 650.0 479.2Q656.7 476.7 659.2 470.8Q661.3 465.0 660.0 459.3"/>
<path class="ln" d="M595.3 518.7L580.0 528.3L561.7 554.2"/>
<!-- right hand -->
<path fill="#fff" d="M948.8 461.6L945.3 460.5L932.0 454.3L902.6 441.6L895.6 449.7Q892.1 455.3 895.6 463.0L901.9 471.7L911.0 484.0L945.3 489.6L948.8 489.9Z"/>
<path class="ln" d="M948.8 461.9L932.0 454.3L902.6 441.6Q898.4 445.5 895.6 449.7Q891.7 456.0 895.6 463.0Q898.4 467.9 901.9 471.7Q905.4 476.3 910.3 480.1Q925.0 484.0 948.8 486.1"/>
<path class="ln" d="M946.7 496.0L940.7 500.0L896.0 529.3"/>
<path fill="#fff" d="M892.7 547.7L906.7 547.2L924.0 544.7L942.7 541.3L946.7 541.3L946.7 588.7L928.7 582.7L913.3 576.7L902.7 569.3L895.3 561.3L892.0 554.7L891.3 550.7Z"/>
<path class="ln" d="M924.0 544.5L942.7 541.3L946.7 540.8"/>
<path class="ln" d="M895.3 561.7Q906.7 570.0 920.0 570.3Q930.7 570.0 938.0 565.0"/>
<path class="ln" d="M936.7 566.0Q930.0 573.3 929.0 582.7"/>

</g>
<path d="M526.6,486 H560.1 V513 A192.5,192.5 0 0 0 945.1,513 V486 H978.6 V513 A226,226 0 0 1 526.6,513Z" fill="#6ecdeb"/>
<path d="M557.6,487 V446.5 A195,195 0 0 1 947.6,446.5 V487" fill="none" stroke="#72c7dc" stroke-width="5"/>
<circle cx="750.3" cy="693.0" r="36.4" fill="#d9f5fc"/><g><text x="0" y="0" class="num" transform="translate(726.18 718.00) scale(0.8299 0.7206)">2</text></g>
<text x="607.0" y="786.5" textLength="294.0" lengthAdjust="spacingAndGlyphs" class="cap">Choose appropriate</text>
<text x="615.0" y="823.5" textLength="278.0" lengthAdjust="spacingAndGlyphs" class="cap">size; cut if needed.</text>
<path d="M1054.5,513 V446.5 A192.5,192.5 0 0 1 1439.5,446.5 V513 A192.5,192.5 0 0 1 1054.5,513Z" fill="#fff"/>
<g clip-path="url(#c3)">
<!-- panel 3: peel backing -->
<g class="ln">
<!-- dressing back outline -->
<path d="M1175.0 376.7Q1175.8 368.3 1183.3 364.2Q1190.0 361.0 1197.5 363.7L1295.0 390.8"/>
<path d="M1150.0 531.7L1235.3 556.7" stroke-width="3.6"/>
<!-- left hand back -->
<path d="M1060.0 561.7L1091.7 480.0L1100.0 458.3L1133.0 381.7Q1134.2 378.8 1137.3 378.7L1173.3 376.7L1206.7 375.0Q1215.0 375.5 1220.3 380.8L1256.7 414.2L1280.0 423.7"/>
<path d="M1165.3 439.2L1178.3 407.5L1208.3 405.8L1239.2 429.7"/>
<path d="M1180.0 421.7L1200.0 422.0L1219.2 435.8"/>
<path d="M1181.7 432.5L1199.2 433.0L1209.2 440.8"/>
<path d="M1200.8 480.8L1204.2 500.0Q1206.7 510.0 1211.7 510.0Q1215.8 509.2 1217.5 500.0L1220.3 478.3L1223.7 474.2"/>
<path d="M1150.0 515.8L1149.2 531.7L1125.8 673.3"/>
<!-- right hand behind -->
<path d="M1330.0 452.3Q1336.7 449.1 1342.0 450.7L1408.7 490.7Q1411.3 493.3 1412.0 501.3L1428.0 597.3"/>
<path d="M1336.7 460.0L1333.3 473.3"/>
<path d="M1316.7 474.3L1331.3 473.3L1374.0 503.3"/>
<path d="M1306.0 494.4L1326.0 495.3L1352.7 518.7"/>
<path d="M1338.7 527.3L1389.3 495.3"/>
</g>
<!-- flap -->
<path class="sk" d="M1310.0 365.8Q1320.8 375.0 1324.2 387.5Q1325.8 394.2 1323.3 400.0L1235.8 555.8Q1240.8 545.0 1239.7 536.7Q1237.5 530.0 1226.7 524.2L1281.7 423.3L1296.7 391.7Z"/>
<!-- strip -->
<path class="sk" d="M1323.3 400.0Q1333.3 403.3 1340.0 409.2Q1345.0 415.0 1344.2 421.7Q1343.3 428.3 1340.0 435.0L1283.3 538.3Q1278.3 548.3 1271.7 554.2Q1265.0 560.3 1256.7 560.8Q1246.7 560.8 1235.8 556.3Z"/>
<path fill="#e5ddb9" d="M1315.0 416.7Q1318.7 415.0 1322.5 418.7Q1325.3 423.3 1322.5 431.7L1267.3 536.0Q1262.5 544.2 1255.0 546.3Q1248.3 547.5 1245.3 541.7Z"/>
<path fill="none" stroke="#1f3b7c" stroke-width="4.6" stroke-dasharray="2.1 6.8" d="M1339.7 414.2Q1340.3 423.3 1335.8 431.7L1279.2 535.0Q1273.3 547.5 1264.2 554.2L1255.8 558.0"/>
<path class="ln" d="M1323.3 400.0L1235.8 556.3" stroke-width="3.6"/>
<!-- left thumb -->
<path class="sk" d="M1148.3 435.0L1165.0 440.0Q1183.3 445.0 1198.3 445.8Q1216.7 441.7 1235.0 433.3Q1245.0 432.5 1256.7 434.2L1271.7 436.7Q1279.2 440.8 1280.8 448.3Q1280.8 455.8 1273.3 459.2L1260.0 461.7L1233.3 466.7L1206.7 475.0Q1198.3 481.7 1193.3 486.7L1173.3 507.5Q1166.7 512.5 1158.3 514.2L1121.7 519.2"/>
<path class="ln" d="M1258.3 442.7L1273.7 441.3Q1279.7 444.2 1279.0 448.3Q1277.5 453.0 1271.7 454.3L1261.0 456.8Z"/>
<path class="ln" d="M1150.0 515.7Q1165.8 514.2 1173.8 507.2"/>
<!-- right thumb -->
<path fill="#fff" d="M1384.7 562.7Q1370.0 556.0 1359.3 546.7L1338.7 527.3L1319.3 514.7L1300.7 502.7L1292.7 497.3Q1286.0 491.3 1280.7 490.7Q1274.0 491.3 1272.4 496.0Q1271.3 502.7 1276.7 513.3Q1280.0 520.0 1284.7 525.3L1332.7 572.0L1343.3 626.7L1384.7 626.7Z"/>
<path class="ln" d="M1384.7 562.7Q1370.0 556.0 1359.3 546.7L1338.7 527.3L1319.3 514.7L1300.7 502.7L1292.7 497.3Q1286.0 491.3 1280.7 490.7Q1274.0 491.3 1272.4 496.0Q1271.3 502.7 1276.7 513.3Q1280.0 520.0 1284.7 525.3L1332.7 572.0"/>
<path class="ln" d="M1331.1 570.9L1350.3 638.7L1375.3 659.0"/>
<path class="ln" d="M1277.7 495.3Q1277.1 502.7 1282.0 508.7Q1287.3 514.7 1294.0 512.7Q1299.6 510.0 1299.6 502.4"/>
<path class="ln" d="M1331.1 570.9L1332.7 575.7L1363.6 642.4L1378.5 656.8"/>

</g>
<path d="M1021,486 H1054.5 V513 A192.5,192.5 0 0 0 1439.5,513 V486 H1473 V513 A226,226 0 0 1 1021,513Z" fill="#6ecdeb"/>
<path d="M1052,487 V446.5 A195,195 0 0 1 1442,446.5 V487" fill="none" stroke="#72c7dc" stroke-width="5"/>
<circle cx="1244.8" cy="693.0" r="36.4" fill="#d9f5fc"/><g><text x="0" y="0" class="num" transform="translate(1222.06 717.78) scale(0.8065 0.7175)">3</text></g>
<text x="1085.8" y="786.5" textLength="325.2" lengthAdjust="spacingAndGlyphs" class="cap">Peel backing of sterile</text>
<text x="1087.2" y="823.5" textLength="321.1" lengthAdjust="spacingAndGlyphs" class="cap">hydrocolloid dressing.</text>
<path d="M307.5,1118.6 V1052.1 A192.5,192.5 0 0 1 692.5,1052.1 V1118.6 A192.5,192.5 0 0 1 307.5,1118.6Z" fill="#fff"/>
<g clip-path="url(#c4)">
<!-- panel 4: apply dressing -->
<path fill="#6ecdeb" d="M290.0 840.0L455.0 840.0L459.2 864.2L479.2 880.8Q481.7 885.0 481.7 890.8L420.0 900.0L420.0 1333.3L290.0 1333.3Z"/>
<path class="ln" d="M365.8 915.0Q358.7 950.0 363.3 983.3Q365.8 1008.3 370.8 1035.0"/>
<!-- patient arm -->
<path class="sk" d="M376.3 1290.0L372.8 1181.7L372.7 1033.3L373.3 1000.0Q375.0 958.3 381.7 920.0Q384.2 905.0 388.3 898.3Q393.3 890.0 400.0 885.0Q408.3 879.2 416.7 876.7Q425.0 874.2 433.3 873.3Q443.3 873.0 450.0 875.0Q460.0 877.5 466.7 881.7Q475.0 886.7 480.0 893.3Q485.0 900.0 486.7 906.7Q489.2 916.7 489.2 925.0L489.2 1004.2L484.0 1164.0L483.5 1300.0"/>
<path class="ln" d="M459.2 864.2L479.2 880.8Q481.7 885.0 481.7 890.8"/>
<!-- wound -->
<path fill="#e2201c" stroke="#7b4848" stroke-width="1.2" stroke-linejoin="round" d="M420.8 1005.0Q447.5 971.7 483.3 952.5Q458.3 984.2 420.8 1005.0Z"/>
<!-- right hand behind -->
<g class="ln">
<path d="M555.5 1025.5L581.2 1035.7Q584.4 1037.2 585.9 1039.4L638.4 1141.3L676.5 1191.2L700.0 1220.5"/>
<path d="M555.5 1128.1L572.4 1164.1Q573.9 1166.6 576.8 1168.0L603.9 1180.6Q606.1 1181.7 607.3 1183.9L645.7 1258.7"/>
</g>
<!-- dressing -->
<rect x="397.5" y="1005.6" width="158.2" height="158" rx="24" ry="24" fill="#fff" stroke="#434345" stroke-width="2.4"/>
<rect x="409.5" y="1019.5" width="131.5" height="130.6" rx="17" ry="17" fill="#e5ddb9"/>
<!-- right thumb -->
<path class="sk" d="M579.7 1076.1L555.5 1062.1L537.2 1054.8L509.3 1047.5Q500.5 1044.5 494.7 1044.5Q490.3 1046.0 491.4 1051.9Q492.5 1057.7 496.1 1060.7L524.0 1075.3L555.5 1101.0L578.3 1139.9Q582.7 1145.7 591.5 1148.7L622.3 1162.6"/>
<path class="ln" d="M494.7 1046.3L495.8 1052.2L506.4 1056.3Q510.1 1056.3 510.8 1049.2"/>
<!-- left hand -->
<path class="sk" d="M396.7 1030.1L372.0 1036.0Q364.0 1039.2 362.4 1041.9Q359.7 1047.7 358.1 1054.1Q356.0 1064.8 353.9 1073.3Q352.3 1080.8 349.6 1086.1Q348.3 1092.5 349.1 1096.8Q348.0 1104.3 345.3 1108.5Q343.7 1112.8 344.8 1116.0Q345.3 1120.3 347.5 1122.4Q349.6 1127.7 349.1 1132.0Q346.9 1136.3 347.5 1140.5Q348.0 1150.1 350.7 1157.6L351.6 1156.7L373.9 1177.9L396.0 1197.6L398.9 1350.7L478.7 1350.7L444.0 1194.0L447.7 1180.0L449.9 1164.0Q451.5 1154.4 450.9 1145.9Q449.9 1138.4 446.7 1132.0L439.2 1116.0Q434.9 1107.5 434.4 1101.1Q434.4 1094.7 436.0 1088.3L442.4 1062.7Q445.1 1056.3 446.7 1053.1Q446.7 1049.9 444.5 1047.7Q440.3 1044.0 436.0 1044.5Q431.7 1045.6 428.5 1048.8L409.3 1070.1L404.0 1088.3Q401.9 1093.6 399.2 1092.7L396.7 1088.8Z"/>
<g class="ln">
<path d="M383.7 1053.6L384.6 1080.8L398.1 1092.5"/>
<path d="M384.3 1055.7L396.2 1052.3"/>
<path d="M385.9 1071.2L396.3 1068.3"/>
<path d="M391.2 1084.0L396.5 1082.7"/>
<path d="M428.5 1052.0L440.3 1058.2L442.9 1048.3"/>
</g>

</g>
<path d="M274,1091.6 H307.5 V1118.6 A192.5,192.5 0 0 0 692.5,1118.6 V1091.6 H726 V1118.6 A226,226 0 0 1 274,1118.6Z" fill="#6ecdeb"/>
<path d="M305,1092.6 V1052.1 A195,195 0 0 1 695,1052.1 V1092.6" fill="none" stroke="#72c7dc" stroke-width="5"/>
<circle cx="499.2" cy="1298.6" r="36.4" fill="#d9f5fc"/><g><text x="0" y="0" class="num" transform="translate(474.31 1324.00) scale(0.8090 0.7326)">4</text></g>
<text x="341.2" y="1390.7" textLength="319.8" lengthAdjust="spacingAndGlyphs" class="cap">Gently apply dressing</text>
<text x="381.2" y="1428.5" textLength="241.1" lengthAdjust="spacingAndGlyphs" class="cap">to affected area.</text>
<path d="M809.3,1118.6 V1052.1 A192.5,192.5 0 0 1 1194.3,1052.1 V1118.6 A192.5,192.5 0 0 1 809.3,1118.6Z" fill="#fff"/>
<g clip-path="url(#c5)">
<!-- panel 5: remove -->
<!-- dressing -->
<path fill="#fff" stroke="#434345" stroke-width="2.4" stroke-linejoin="round" d="M1101.6,1129.6 V1001.8 Q1101.6,987.9 1087.6,987.9 H918.5 Q904.5,987.9 904.5,1001.8 V1170.5 Q904.5,1184.5 918.5,1184.5 H1062"/>
<path fill="#e5ddb9" d="M922.5,1014.5 Q922.5,1006.3 930.7,1006.3 H1076.3 Q1084.5,1006.3 1084.5,1014.5 V1129.6 H922.5Z"/>
<path fill="#e5ddb9" d="M922.5,1129 H1040 V1168 H922.5Z"/>
<!-- peeled flap -->
<path class="sk" d="M1054.0 1129.8L1101.6 1129.6Q1100.4 1130.8 1099.6 1132.0L1089.2 1145.6Q1085.2 1156.0 1085.2 1172.0L1070.0 1172.0L1054.0 1148.0Z"/>
<!-- curl under thumb + bottom edge -->
<path class="ln" d="M998.0 1184.6L1062.0 1186.2Q1067.6 1186.7 1071.6 1186.4Q1077.2 1185.6 1080.4 1183.6Q1084.0 1180.8 1085.2 1178.0Q1086.2 1175.6 1086.0 1173.2"/>
<!-- hand -->
<path fill="#fff" d="M827.0 1197.1L870.0 1149.8L906.0 1106.6L947.4 1063.4L965.4 1050.8L973.5 1054.4L1042.8 1078.7L1047.3 1083.2L1071.6 1129.6L1082.4 1148.0L1085.1 1177.2L1077.0 1182.6L1052.0 1183.6L1014.2 1176.4L994.4 1175.5L980.0 1180.9L953.0 1193.5L942.0 1194.8L926.0 1193.5L883.7 1269.1L827.0 1269.1Z"/>
<!-- U finger -->
<path class="sk" d="M990.8 1176.5L984.5 1204.4Q985.4 1213.4 990.8 1213.8Q996.2 1213.4 999.8 1206.2L1014.6 1176.5"/>
<g class="ln">
<path d="M827.0 1197.1L870.0 1149.8L906.0 1106.6L947.4 1063.4Q960.0 1053.5 965.4 1050.8L973.5 1054.4L1041.9 1078.3Q1045.5 1080.0 1047.3 1083.2L1071.6 1129.6"/>
<!-- index fingertip -->
<path d="M1071.6 1130.0Q1064.4 1132.8 1060.8 1138.4Q1058.0 1144.0 1059.2 1150.2"/>
<!-- curled fingers -->
<path d="M973.5 1121.0L996.9 1096.7L1029.3 1105.7L1047.3 1145.7"/>
<path d="M993.3 1110.2L1012.2 1120.1L1024.8 1144.0"/>
<path d="M990.6 1122.8L1008.6 1131.8L1015.8 1144.0"/>
<!-- arm lower line and sliver -->
<path d="M926.0 1195.4L883.7 1269.2L872.0 1289.5"/>
<path d="M926.0 1194.5L944.9 1200.1L957.0 1192.5"/>
</g>
<!-- thumb -->
<path class="sk" d="M956.4 1112.0L970.8 1124.6Q985.2 1136.3 996.0 1140.8Q1005.0 1144.4 1014.0 1145.3L1048.2 1146.2Q1060.8 1151.6 1073.4 1159.7Q1081.5 1166.0 1084.6 1171.0Q1086.7 1175.0 1085.6 1178.2Q1083.8 1182.2 1080.4 1183.6Q1076.1 1186.3 1071.6 1186.3L1062.1 1186.0L1030.0 1178.4L1014.2 1176.4L994.4 1175.5L980.0 1180.9L953.0 1193.5Q942.0 1195.2 926.0 1193.5L896.3 1187.2"/>
<path class="ln" d="M1078.0 1167.6Q1074.8 1164.0 1072.4 1163.2L1064.4 1161.6L1060.8 1178.0Q1066.0 1180.0 1070.0 1180.2Q1074.8 1180.0 1078.0 1178.8Q1081.2 1177.2 1083.0 1174.4"/>
<!-- arrows -->
<defs>
<linearGradient id="ag1" gradientUnits="userSpaceOnUse" x1="880" y1="1000" x2="925" y2="985"><stop offset="0" stop-color="#a9e0f4"/><stop offset="1" stop-color="#5fc8ea"/></linearGradient>
<linearGradient id="ag3" gradientUnits="userSpaceOnUse" x1="1124" y1="1146" x2="1090" y2="1165"><stop offset="0" stop-color="#a9e0f4"/><stop offset="1" stop-color="#5fc8ea"/></linearGradient>
</defs>
<g fill="#5fc8ea">
<path fill="url(#ag1)" d="M881.6 999.6Q888.4 982.0 903.6 976.0Q913.2 974.0 920.4 977.6L926.0 968.0L932.8 993.6L909.2 999.0L913.6 988.4Q903.6 985.2 894.0 989.2Q886.0 993.2 881.6 999.6Z"/>
<path fill="url(#ag1)" transform="translate(2006.4 0) scale(-1 1)" d="M881.6 999.6Q888.4 982.0 903.6 976.0Q913.2 974.0 920.4 977.6L926.0 968.0L932.8 993.6L909.2 999.0L913.6 988.4Q903.6 985.2 894.0 989.2Q886.0 993.2 881.6 999.6Z"/>
<path fill="url(#ag3)" d="M1122.8 1144.0Q1118.8 1156.0 1108.4 1157.0Q1098.8 1158.8 1091.6 1155.2L1096.4 1145.6L1072.0 1150.0L1078.8 1174.8L1083.2 1167.6Q1094.0 1170.8 1103.6 1168.4Q1119.6 1163.2 1122.8 1144.0Z"/>
</g>

</g>
<path d="M775.8,1091.6 H809.3 V1118.6 A192.5,192.5 0 0 0 1194.3,1118.6 V1091.6 H1227.8 V1118.6 A226,226 0 0 1 775.8,1118.6Z" fill="#6ecdeb"/>
<path d="M806.8,1092.6 V1052.1 A195,195 0 0 1 1196.8,1052.1 V1092.6" fill="none" stroke="#72c7dc" stroke-width="5"/>
<circle cx="997.8" cy="1298.6" r="36.4" fill="#d9f5fc"/><g><text x="0" y="0" class="num" transform="translate(976.74 1323.28) scale(0.8193 0.7221)">5</text></g>
<text x="812.4" y="1390.7" textLength="383.3" lengthAdjust="spacingAndGlyphs" class="cap">To remove, gently peel off</text>
<text x="815.8" y="1428.5" textLength="373.2" lengthAdjust="spacingAndGlyphs" class="cap">corners one at a time in a</text>
<text x="879.8" y="1465.9" textLength="247.1" lengthAdjust="spacingAndGlyphs" class="cap">diagonal motion.</text>
<text x="1318.2" y="1466.7" textLength="142.3" lengthAdjust="spacingAndGlyphs" class="brand">JJ CARE</text>
</svg></body></html>
